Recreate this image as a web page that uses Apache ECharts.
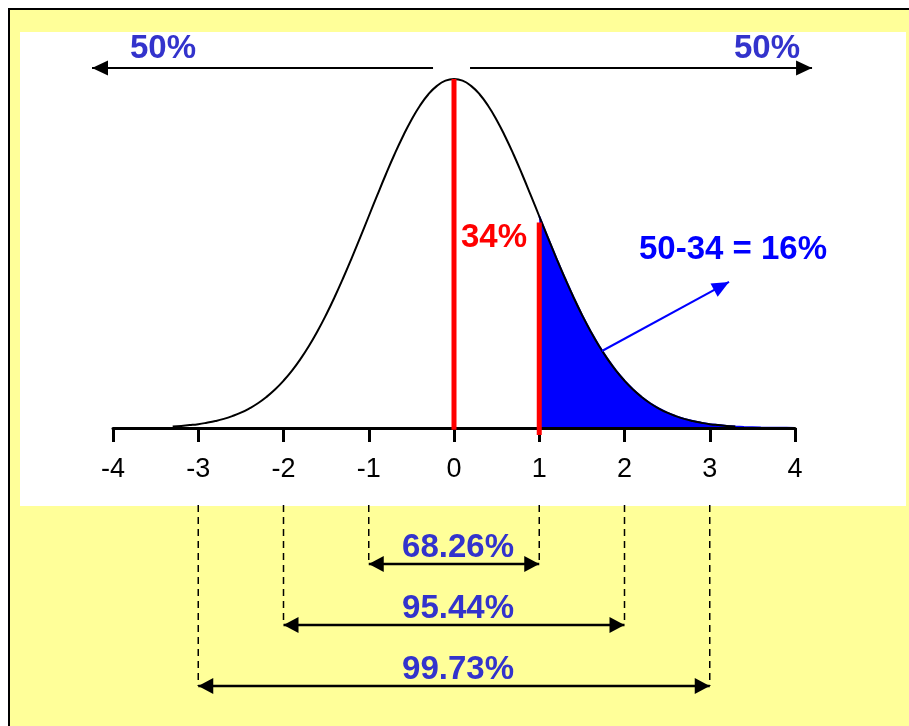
<!DOCTYPE html>
<html><head><meta charset="utf-8">
<script src="https://cdn.jsdelivr.net/npm/echarts@6/dist/echarts.min.js"></script>
<style>html,body{margin:0;padding:0;background:#fff}#c{width:909px;height:726px}</style>
</head><body><div id="c"></div>
<script>
// ---- data ----
const tickValues = [-4, -3, -2, -1, 0, 1, 2, 3, 4];
const curveX = [-3.3,-3.2,-3.1,-3.0,-2.9,-2.8,-2.7,-2.6,-2.5,-2.4,-2.3,-2.2,-2.1,-2.0,-1.9,-1.8,-1.7,-1.6,-1.5,-1.4,-1.3,-1.2,-1.1,-1.0,-0.9,-0.8,-0.7,-0.6,-0.5,-0.4,-0.3,-0.2,-0.1,0.0,0.1,0.2,0.3,0.4,0.5,0.6,0.7,0.8,0.9,1.0,1.1,1.2,1.3,1.4,1.5,1.6,1.7,1.8,1.9,2.0,2.1,2.2,2.3,2.4,2.5,2.6,2.7,2.8,2.9,3.0,3.1,3.2,3.3];
const curveY = [0.0017,0.0024,0.0033,0.0044,0.0060,0.0079,0.0104,0.0136,0.0175,0.0224,0.0283,0.0355,0.0440,0.0540,0.0656,0.0790,0.0940,0.1109,0.1295,0.1497,0.1714,0.1942,0.2179,0.2420,0.2661,0.2897,0.3123,0.3332,0.3521,0.3683,0.3814,0.3910,0.3970,0.3989,0.3970,0.3910,0.3814,0.3683,0.3521,0.3332,0.3123,0.2897,0.2661,0.2420,0.2179,0.1942,0.1714,0.1497,0.1295,0.1109,0.0940,0.0790,0.0656,0.0540,0.0440,0.0355,0.0283,0.0224,0.0175,0.0136,0.0104,0.0079,0.0060,0.0044,0.0033,0.0024,0.0017];
const tailX = [1.0,1.1,1.2,1.3,1.4,1.5,1.6,1.7,1.8,1.9,2.0,2.1,2.2,2.3,2.4,2.5,2.6,2.7,2.8,2.9,3.0,3.1,3.2,3.3,3.4,3.5,3.6,3.7,3.8,3.9,4.0];
const tailY = [0.2420,0.2179,0.1942,0.1714,0.1497,0.1295,0.1109,0.0940,0.0790,0.0656,0.0540,0.0440,0.0355,0.0283,0.0224,0.0175,0.0136,0.0104,0.0079,0.0060,0.0044,0.0033,0.0024,0.0017,0.0012,0.0009,0.0006,0.0004,0.0003,0.0002,0.0001];
const redLineX = [0, 1];
const redLineTop = [0.3989, 0.235];
const sigmaBounds = [1, 2, 3];
const sigmaLabels = ['68.26%', '95.44%', '99.73%'];
const halfLabels = ['50%', '50%'];
const centralLabel = '34%';
const tailLabel = '50-34 = 16%';

// ---- layout (axis units) ----
const LAYOUT = {
  rangeLevels: [-0.1554, -0.2251, -0.2949],
  dashTop: -0.088,
  rangeLabelX: 0.047,
  topArrowY: 0.4114,
  topLeft: [-0.246, -4.246],
  topRight: [0.188, 4.2],
  halfLabelPos: [[-3.414, 0.4331], [3.672, 0.4331]],
  centralLabelPos: [0.469, 0.2171],
  tailLabelPos: [3.273, 0.2034],
  tailArrow: [[1.736, 0.088], [3.226, 0.1669]],
  redBottom: [-0.002, -0.008]
};

const FONT = '"Liberation Sans", Arial, Helvetica, sans-serif';
const PURPLE = '#3333CC';
const TXT = 33;

function head(tip, from, len, half, color) {
  const dx = tip[0] - from[0], dy = tip[1] - from[1];
  const d = Math.hypot(dx, dy), ux = dx / d, uy = dy / d;
  const bx = tip[0] - ux * len, by = tip[1] - uy * len;
  return { type: 'polygon', shape: { points: [tip, [bx - uy * half, by + ux * half], [bx + uy * half, by - ux * half]] }, style: { fill: color } };
}
function seg(a, b, color, w, dash) {
  return { type: 'line', shape: { x1: a[0], y1: a[1], x2: b[0], y2: b[1] }, style: { stroke: color, lineWidth: w, lineDash: dash || null } };
}
function txt(p, s, color, size, dy) {
  return { type: 'text', style: { text: s, x: p[0], y: p[1] + (dy || 0), fill: color, font: 'bold ' + size + 'px ' + FONT, align: 'center', verticalAlign: 'middle' } };
}

function renderAnnotations(params, api) {
  const ch = [];
  redLineX.forEach((x, i) => {
    ch.push(seg(api.coord([x, LAYOUT.redBottom[i]]), api.coord([x, redLineTop[i]]), '#FF0000', 5));
  });
  const la = api.coord([LAYOUT.topLeft[0], LAYOUT.topArrowY]), lb = api.coord([LAYOUT.topLeft[1], LAYOUT.topArrowY]);
  const ra = api.coord([LAYOUT.topRight[0], LAYOUT.topArrowY]), rb = api.coord([LAYOUT.topRight[1], LAYOUT.topArrowY]);
  ch.push(seg(la, lb, '#000', 2), head(lb, la, 16, 7.5, '#000'));
  ch.push(seg(ra, rb, '#000', 2), head(rb, ra, 16, 7.5, '#000'));
  halfLabels.forEach((s, i) => ch.push(txt(api.coord(LAYOUT.halfLabelPos[i]), s, PURPLE, TXT)));
  ch.push(txt(api.coord(LAYOUT.centralLabelPos), centralLabel, '#FF0000', TXT));
  ch.push(txt(api.coord(LAYOUT.tailLabelPos), tailLabel, '#0000FF', TXT));
  const ta = api.coord(LAYOUT.tailArrow[0]), tb = api.coord(LAYOUT.tailArrow[1]);
  ch.push(seg(ta, tb, '#0000FF', 2), head(tb, ta, 17, 7.5, '#0000FF'));
  sigmaBounds.forEach((b, i) => {
    const lv = LAYOUT.rangeLevels[i];
    const l = api.coord([-b, lv]), r = api.coord([b, lv]);
    ch.push(seg(api.coord([-b, LAYOUT.dashTop]), l, '#000', 1.5, [7, 5]));
    ch.push(seg(api.coord([b, LAYOUT.dashTop]), r, '#000', 1.5, [7, 5]));
    ch.push(seg(l, r, '#000', 2.5), head(l, r, 15, 8, '#000'), head(r, l, 15, 8, '#000'));
    const c = api.coord([LAYOUT.rangeLabelX, lv]);
    ch.push(txt(c, sigmaLabels[i], PURPLE, TXT, -16));
  });
  return { type: 'group', children: ch };
}

const chart = echarts.init(document.getElementById('c'), null, { renderer: 'canvas' });
chart.setOption({
  animation: false,
  backgroundColor: '#ffffff',
  graphic: [
    { type: 'rect', z: -10, shape: { x: 9, y: 9, width: 920, height: 740 }, style: { fill: '#FFFF99', stroke: '#000', lineWidth: 2 } },
    { type: 'rect', z: -9, shape: { x: 20, y: 32, width: 886, height: 474 }, style: { fill: '#FFFFFF' } }
  ],
  grid: { left: 113, right: 114, top: 34.25, bottom: 298, outerBoundsMode: 'none', containLabel: false },
  xAxis: {
    type: 'value', min: -4, max: 4, interval: 1, z: 4,
    axisLine: { onZero: false, lineStyle: { color: '#000', width: 3 } },
    axisTick: { length: 14, lineStyle: { color: '#000', width: 3 } },
    axisLabel: { color: '#000', fontSize: 27, fontFamily: FONT, margin: 28,
      customValues: tickValues, formatter: v => String(v) },
    splitLine: { show: false }
  },
  yAxis: { type: 'value', min: 0, max: 0.45, show: false, splitLine: { show: false } },
  series: [
    { type: 'line', z: 2, data: tailX.map((x, i) => [x, tailY[i]]), symbol: 'none',
      lineStyle: { color: '#0000FF', width: 2 }, areaStyle: { color: '#0000FF', opacity: 1 } },
    { type: 'line', z: 3, data: curveX.map((x, i) => [x, curveY[i]]), symbol: 'none', smooth: true,
      lineStyle: { color: '#000', width: 2 } },
    { type: 'custom', z: 5, data: [0], renderItem: renderAnnotations, clip: false, silent: true }
  ]
});
</script></body></html>
